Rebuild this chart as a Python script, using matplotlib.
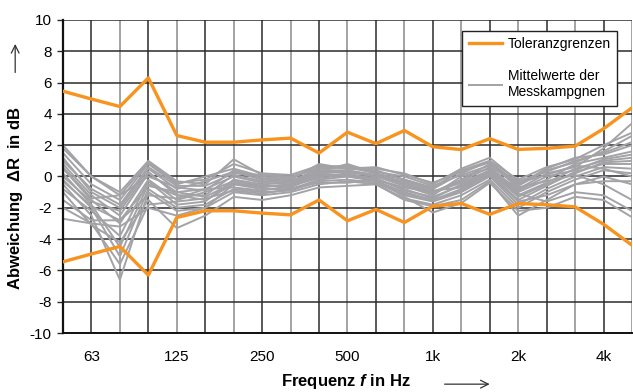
import numpy as np
import matplotlib
matplotlib.use('Agg')
import matplotlib.pyplot as plt

plt.rcParams['font.family'] = ['Liberation Sans', 'DejaVu Sans']
plt.rcParams['mathtext.fontset'] = 'custom'
plt.rcParams['mathtext.bfit'] = 'Liberation Sans:italic:bold'
plt.rcParams['mathtext.bf'] = 'Liberation Sans:bold'
plt.rcParams['axes.unicode_minus'] = False

# Terzbaender 50 Hz ... 5 kHz
bands = ['50', '63', '80', '100', '125', '160', '200', '250', '315', '400', '500',
         '630', '800', '1k', '1.25k', '1.6k', '2k', '2.5k', '3.15k', '4k', '5k']
tick_labels = ['63', '125', '250', '500', '1k', '2k', '4k']

tol_upper = [5.45, 4.95, 4.47, 6.3, 2.62, 2.19, 2.19, 2.34, 2.45, 1.5, 2.83,
             2.1, 2.94, 1.9, 1.72, 2.42, 1.73, 1.8, 1.94, 3.05, 4.39]
tol_lower = [-v for v in tol_upper]

# Mittelwerte der Messkampagnen
s1 = [2.0, 0.0, -1.0, 1.0, -0.3, -0.5, 1.1, 0.1, 0.0, 0.5, 0.6, 0.5, 0.2, -0.5, 0.5, 1.2, -0.3, 0.3, 1.0, 1.5, 2.2]
s2 = [1.5, -0.5, -1.5, 0.8, -0.5, 0.0, 0.5, 0.0, -0.2, 0.8, 0.5, 0.4, -0.2, -0.8, 0.2, 1.0, -0.8, 0.2, 0.6, 1.8, 3.4]
s3 = [1.2, -1.0, -2.0, 0.5, -0.8, -0.3, 0.3, -0.2, -0.3, 0.3, 0.8, 0.2, -0.4, -1.0, -0.2, 0.8, -0.5, 0.5, 1.2, 1.4, 2.0]
s4 = [0.8, -1.2, -2.5, 0.2, -1.0, -0.8, 0.0, -0.4, -0.5, 0.2, 0.3, 0.0, -0.6, -1.2, 0.0, 0.5, -1.0, -0.2, 0.8, 1.2, 1.6]
s5 = [0.5, -1.5, -3.0, -0.2, -1.5, -1.0, -0.3, -0.6, -0.6, 0.0, 0.2, -0.2, -0.8, -1.4, -0.5, 0.3, -1.2, -0.4, 0.5, 1.0, 1.2]
s6 = [0.2, -1.8, -4.5, -0.5, -1.2, -1.5, -0.5, -0.8, -0.8, -0.2, 0.0, -0.3, -1.0, -1.5, -0.8, 0.2, -1.5, -0.6, 0.3, 0.8, 0.8]
s7 = [-0.2, -2.0, -5.1, -0.8, -2.0, -1.8, -0.8, -1.0, -0.9, -0.3, -0.2, -0.4, -1.2, -1.6, -1.0, 0.0, -1.8, -0.8, 0.0, 0.6, 0.5]
s8 = [-0.5, -2.5, -6.6, -1.0, -2.2, -2.0, -1.0, -1.2, -1.0, -0.5, -0.3, -0.5, -1.4, -1.8, -1.2, -0.2, -2.0, -1.0, -0.2, 0.4, 0.2]
s9 = [-1.0, -3.1, -4.2, -1.5, -3.3, -2.5, -1.3, -1.5, -1.2, -0.7, -0.6, -0.5, -1.5, -1.9, -1.5, -0.3, -2.5, -1.5, -0.5, 0.0, -0.5]
s10 = [-2.7, -3.0, -3.2, -2.0, -2.5, -2.0, -0.5, -0.6, -0.6, -0.1, 0.1, -0.1, -0.9, -1.3, -0.6, 0.3, -1.3, -0.5, 0.2, 0.9, 1.0]
s11 = [1.0, -0.8, -1.8, 0.6, -0.6, -0.6, 0.2, 0.1, -0.1, 0.6, 0.7, 0.3, 0.0, -0.6, 0.1, 0.7, -0.6, 0.4, 0.9, 1.6, 2.6]
s12 = [0.0, -1.6, -2.2, 0.3, -1.2, -1.2, 0.1, -0.3, -0.4, 0.4, 0.4, 0.1, -0.5, -1.1, -0.3, 0.6, -0.9, 0.0, 0.4, 1.1, 1.4]
s13 = [-0.8, -2.2, -3.8, -0.3, -1.8, -1.6, -0.2, -0.5, -0.7, 0.1, 0.1, -0.3, -1.1, -1.5, -0.9, 0.1, -1.6, -1.2, -0.5, -0.3, -0.3]
s14 = [-1.5, -2.8, -2.8, -1.2, -1.4, -0.8, -0.7, -0.9, -0.6, 0.2, 0.0, -0.2, -0.7, -1.0, -0.4, 0.4, -1.1, -1.6, -1.0, -1.2, -2.2]
s15 = [0.6, -1.4, -1.2, 0.9, -0.4, -0.2, 0.8, 0.2, 0.1, 0.7, 0.5, 0.6, 0.1, -0.4, 0.3, 0.9, -0.4, 0.1, 0.7, 0.5, 0.0]
s16 = [-0.3, -1.9, -2.8, -0.6, -1.0, -1.3, -0.4, -0.7, -0.5, 0.3, 0.3, 0.0, -0.3, -0.9, -0.7, 0.2, -0.7, -0.3, 0.1, -0.5, -1.5]
s17 = [1.8, 0.0, -1.2, 0.0, -0.7, -0.9, 0.4, -0.1, -0.3, 0.5, 0.6, 0.2, -0.2, -0.7, 0.4, 1.0, -0.2, 0.6, 1.1, 2.0, 2.8]
s18 = [-2.0, -3.0, -5.6, -1.8, -1.6, -1.4, -0.9, -1.1, -0.8, -0.4, -0.4, -0.2, -1.3, -2.3, -1.7, -0.4, -2.2, -2.0, -1.3, -1.5, -2.6]
mittelwerte = [s1, s2, s3, s4, s5, s6, s7, s8, s9, s10, s11, s12, s13, s14, s15, s16, s17, s18]

orange = '#f7931e'
grau = '#a3a3a7'

x = np.arange(len(bands))

fig = plt.figure(figsize=(6.33, 3.92), dpi=100)
ax = fig.add_axes([0.0995, 0.1505, 0.8989, 0.7985])

# Gitter
for i in x:
    ax.axvline(i, color='#2b2b2b' if i % 2 == 1 else '#8a8a8a', lw=1.1, zorder=0)
for yv in range(-10, 11, 2):
    ax.axhline(yv, color='#2b2b2b', lw=1.1, zorder=0)

for k, s in enumerate(mittelwerte):
    ax.plot(x, s, color=grau, lw=1.4, zorder=2,
            label='Mittelwerte der\nMesskampgnen' if k == 0 else None)

ax.plot(x, tol_upper, color=orange, lw=2.4, zorder=3, label='Toleranzgrenzen')
ax.plot(x, tol_lower, color=orange, lw=2.4, zorder=3)

ax.set_xlim(0, len(bands) - 1)
ax.set_ylim(-10, 10)
ax.set_yticks(range(-10, 11, 2))
ax.set_xticks([bands.index(t) for t in tick_labels])
ax.set_xticklabels(tick_labels)
ax.tick_params(axis='x', length=0, pad=12, labelsize=11)
ax.tick_params(axis='y', length=4, width=1, color='#2b2b2b', pad=4, labelsize=11)

for side in ['top', 'right']:
    ax.spines[side].set_visible(False)
ax.spines['left'].set_linewidth(1.6)
ax.spines['left'].set_color('#111111')
ax.spines['bottom'].set_linewidth(1.4)
ax.spines['bottom'].set_color('#111111')

handles, labels = ax.get_legend_handles_labels()
leg = ax.legend(handles[::-1], labels[::-1], loc='upper right',
                bbox_to_anchor=(0.9736, 0.965), borderaxespad=0, fontsize=10,
                fancybox=False, edgecolor='#222222', framealpha=1,
                labelspacing=1.3, handlelength=2.4, handletextpad=0.4,
                borderpad=0.45)
leg.get_frame().set_linewidth(1.0)

fig.text(0.024, 0.495, r'Abweichung  $\mathbf{\Delta}$R  in dB', fontsize=12,
         fontweight='bold', rotation=90, ha='center', va='center')

fig.text(0.547, 0.003, r'Frequenz $\mathbfit{f}$ in Hz', fontsize=12, fontweight='bold',
         ha='center', va='bottom')

# Pfeile
fig.add_artist(matplotlib.patches.FancyArrowPatch(
    (0.698, 0.020), (0.778, 0.020), transform=fig.transFigure,
    arrowstyle='->', mutation_scale=14, lw=0.9, color='#333333'))
fig.add_artist(matplotlib.patches.FancyArrowPatch(
    (0.024, 0.808), (0.024, 0.895), transform=fig.transFigure,
    arrowstyle='->', mutation_scale=14, lw=0.9, color='#333333'))

fig.savefig('out.png', dpi=100)
